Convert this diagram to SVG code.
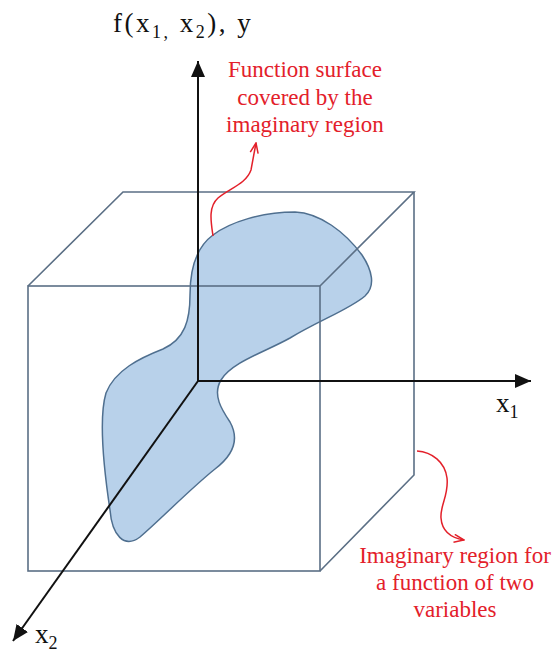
<svg xmlns="http://www.w3.org/2000/svg" width="554" height="652" viewBox="0 0 554 652">
  <style>
    .edge { fill: none; stroke: #5b6f85; stroke-width: 1.6; stroke-linejoin: miter; }
    .axis { fill: none; stroke: #111; stroke-width: 2; }
    .blob { fill: #b8d1ea; stroke: #4f6f8f; stroke-width: 1.5; }
    .axlbl { font-family: "Liberation Serif", "Times New Roman", serif; font-size: 27px; fill: #111; }
    .top { letter-spacing: 2.5px; }
    .sub { font-size: 18px; }
    .note { font-family: "Liberation Serif", "Times New Roman", serif; font-size: 23px; fill: #e3202a; text-anchor: middle; }
    .link { fill: none; stroke: #e3202a; stroke-width: 1.5; }
  </style>
  <defs>
    <marker id="axhead" markerUnits="userSpaceOnUse" viewBox="0 0 16 14" refX="16" refY="7" markerWidth="16" markerHeight="14" orient="auto">
      <path d="M0,0 L16,7 L0,14 z" fill="#111"/>
    </marker>
    <marker id="redhead" markerUnits="userSpaceOnUse" viewBox="0 0 12 10" refX="11" refY="5" markerWidth="12" markerHeight="10" orient="auto">
      <path d="M1,1 L11,5 L1,9" fill="none" stroke="#e3202a" stroke-width="1.5"/>
    </marker>
  </defs>
  <rect width="554" height="652" fill="#fff"/>

  <g id="surface">
    <path class="blob" d="M213,235 C230,222 262,212 295,212 C320,213 345,232 362,255 C372,270 376,286 365,296 C350,309 320,320 290,338 C265,352 232,362 221,380 C212,395 222,410 230,422 C240,440 232,456 215,469 C190,489 160,520 140,537 C124,549 112,535 110,510 C104,470 98,420 106,393 C115,370 140,358 163,349 C185,339 190,320 190,295 C190,265 198,246 213,235 Z"/>
  </g>

  <g id="region">
    <rect class="edge" x="28" y="286" width="292" height="285"/>
    <polyline class="edge" points="28,286 123,192 414,192 320,286"/>
    <polyline class="edge" points="414,192 414,475 320,571"/>
  </g>

  <g id="axes">
    <line class="axis" x1="198" y1="382" x2="198" y2="61" marker-end="url(#axhead)"/>
    <line class="axis" x1="197" y1="381" x2="531" y2="381" marker-end="url(#axhead)"/>
    <line class="axis" x1="198" y1="381" x2="13" y2="641" marker-end="url(#axhead)"/>
  </g>

  <g id="axis-labels">
    <text class="axlbl top" x="113" y="32">f(x<tspan class="sub" dy="6">1,</tspan><tspan dy="-6"> x</tspan><tspan class="sub" dy="6">2</tspan><tspan dy="-6">), y</tspan></text>
    <text class="axlbl" x="496" y="412">x<tspan class="sub" dy="6">1</tspan></text>
    <text class="axlbl" x="35" y="643">x<tspan class="sub" dy="6">2</tspan></text>
  </g>

  <g id="surface-label" font-family="'Liberation Serif', 'Times New Roman', serif">
    <text class="note" x="305" y="77">Function surface</text>
    <text class="note" x="305" y="105">covered by the</text>
    <text class="note" x="305" y="132">imaginary region</text>
  </g>

  <g id="region-label" font-family="'Liberation Serif', 'Times New Roman', serif">
    <text class="note" x="455" y="563">Imaginary region for</text>
    <text class="note" x="455" y="590">a function of two</text>
    <text class="note" x="455" y="617">variables</text>
  </g>

  <g id="connectors">
    <path class="link" d="M213,236 C211,222 208,207 218,198 C230,188 246,184 251,170 L256,143" marker-end="url(#redhead)"/>
    <path class="link" d="M417,451 C432,452 445,462 447,478 C449,495 440,505 441,518 C442,532 452,538 464,540" marker-end="url(#redhead)"/>
  </g>
</svg>
